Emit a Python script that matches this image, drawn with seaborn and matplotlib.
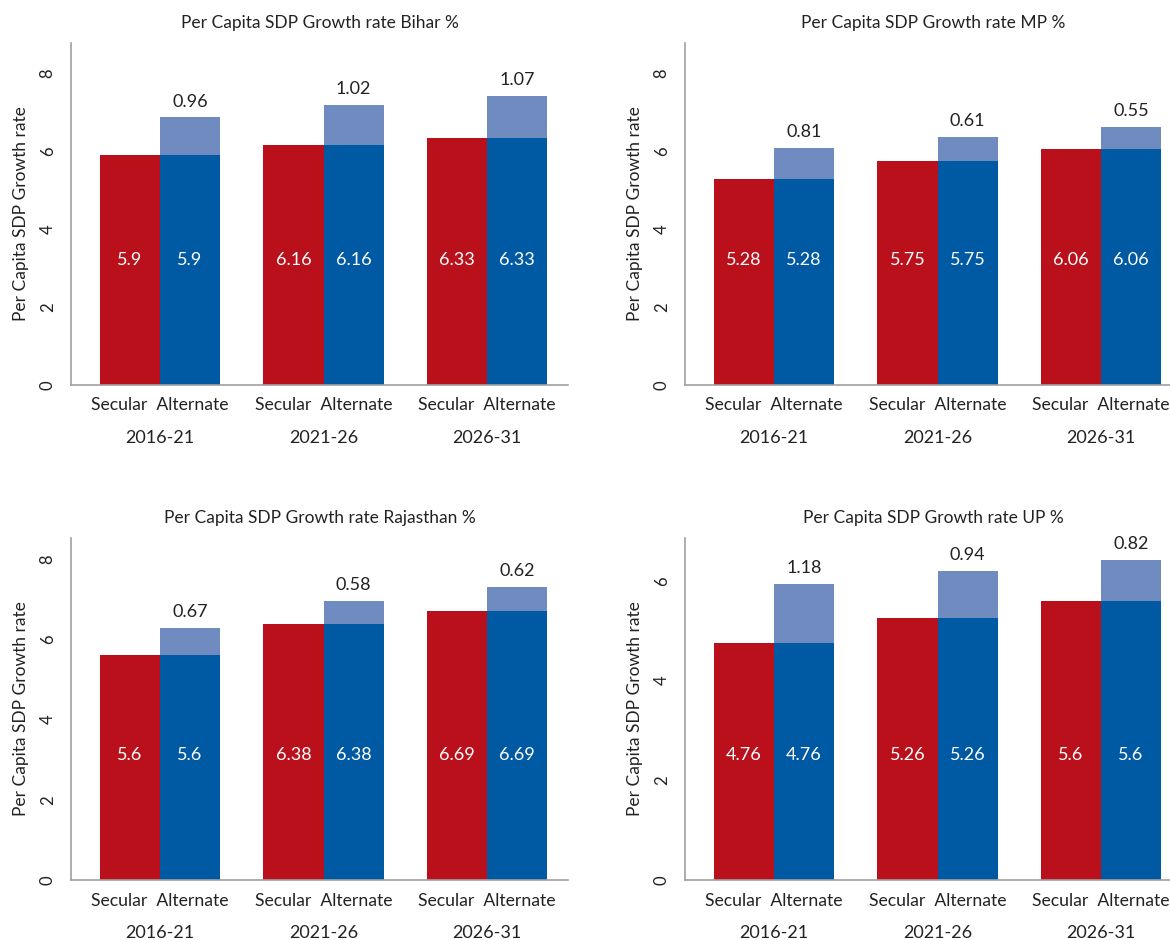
import numpy as np
import pandas as pd
import matplotlib
matplotlib.use("Agg")
import matplotlib.pyplot as plt
import matplotlib.transforms as mtrans
import seaborn as sns

sns.set_style("white")
plt.rcParams["font.family"] = ["Lato", "DejaVu Sans"]

periods = ["2016-21", "2021-26", "2026-31"]
scenarios = ["Secular", "Alternate"]

states = ["Bihar", "MP", "Rajasthan", "UP"]
secular = {
    "Bihar": [5.9, 6.16, 6.33],
    "MP": [5.28, 5.75, 6.06],
    "Rajasthan": [5.6, 6.38, 6.69],
    "UP": [4.76, 5.26, 5.6],
}
increment = {
    "Bihar": [0.96, 1.02, 1.07],
    "MP": [0.81, 0.61, 0.55],
    "Rajasthan": [0.67, 0.58, 0.62],
    "UP": [1.18, 0.94, 0.82],
}
ytop = {"Bihar": 8.77, "MP": 8.77, "Rajasthan": 8.52, "UP": 6.86}

red = "#BA101B"
blue = "#0059A3"
lightblue = "#6F8BC0"
grey = "#A0A0A0"
txt = "#222222"

fig = plt.figure(figsize=(11.7, 9.4), dpi=100)
W, H = 1170, 940
boxes = {
    "Bihar": (71, 43),
    "MP": (685, 43),
    "Rajasthan": (71, 538),
    "UP": (685, 538),
}
aw, ah = 497, 342

for st in states:
    x0, y0 = boxes[st]
    ax = fig.add_axes([x0 / W, (H - y0 - ah) / H, aw / W, ah / H])

    rows = []
    for i, p in enumerate(periods):
        rows.append({"period": p, "scenario": "Secular", "base": secular[st][i],
                     "total": secular[st][i]})
        rows.append({"period": p, "scenario": "Alternate", "base": secular[st][i],
                     "total": secular[st][i] + increment[st][i]})
    df = pd.DataFrame(rows)

    sns.barplot(data=df, x="period", y="total", hue="scenario", hue_order=scenarios,
                palette={"Secular": red, "Alternate": lightblue}, width=0.734,
                saturation=1, errorbar=None, linewidth=0, legend=False, ax=ax)
    sns.barplot(data=df, x="period", y="base", hue="scenario", hue_order=scenarios,
                palette={"Secular": red, "Alternate": blue}, width=0.734,
                saturation=1, errorbar=None, linewidth=0, legend=False, ax=ax)

    sec_bars = ax.containers[2]
    alt_bars = ax.containers[3]
    tot_bars = ax.containers[1]

    ax.set_xticks(range(len(periods)))
    ax.set_xticklabels(["Secular  Alternate"] * len(periods), fontsize=12.7, color=txt)
    ax.tick_params(axis="x", length=0, pad=9)

    blend = mtrans.blended_transform_factory(ax.transData, ax.transAxes)
    for i, p in enumerate(periods):
        ax.annotate(p, xy=(i, 0), xycoords=blend, xytext=(0, -38),
                    textcoords="offset points", ha="center", va="center",
                    fontsize=13, color=txt, annotation_clip=False)
        for b, v in ((sec_bars[i], secular[st][i]), (alt_bars[i], secular[st][i])):
            ax.text(b.get_x() + b.get_width() / 2, 0.365, f"{v:g}", transform=blend,
                    ha="center", va="center", fontsize=13, color="white")
        tb = tot_bars[i]
        ax.annotate(f"{increment[st][i]:g}", xy=(tb.get_x() + tb.get_width() / 2,
                    tb.get_height()), xytext=(0, 11.5), textcoords="offset points",
                    ha="center", va="center", fontsize=13, color=txt,
                    annotation_clip=False)

    ax.set_xlim(-0.544, 2.495)
    ax.set_ylim(0, ytop[st])
    ax.set_yticks(np.arange(0, ytop[st], 2))
    ax.tick_params(axis="y", length=6, width=1, color=grey, pad=5,
                   labelsize=12, labelcolor=txt)
    for lab in ax.get_yticklabels():
        lab.set_rotation(90)
        lab.set_va("center")
    ax.set_xlabel("")
    ax.set_ylabel("Per Capita SDP Growth rate", fontsize=12.5, color=txt, labelpad=8)
    ax.set_title(f"Per Capita SDP Growth rate {st} %", fontsize=12.5, color=txt, pad=11)

    for s in ("top", "right"):
        ax.spines[s].set_visible(False)
    for s in ("left", "bottom"):
        ax.spines[s].set_color(grey)
        ax.spines[s].set_linewidth(1.2)

fig.savefig("out.png", dpi=100)
